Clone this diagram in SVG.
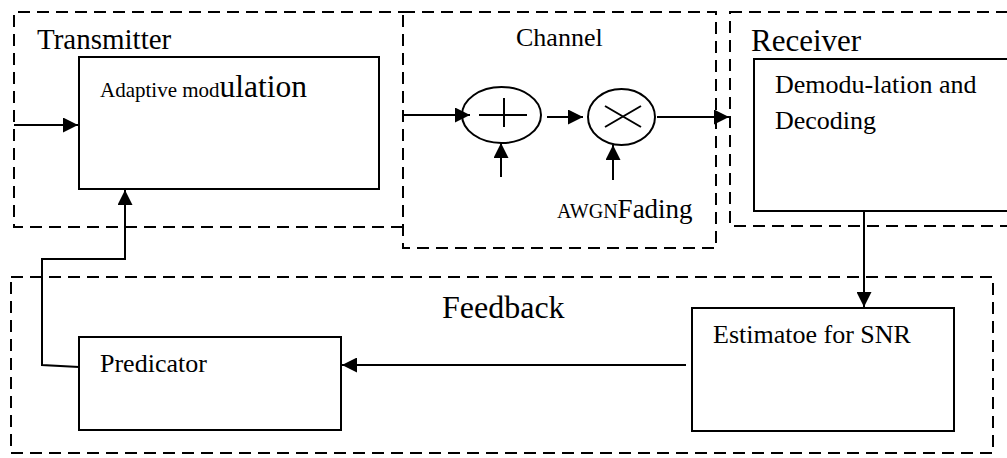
<svg xmlns="http://www.w3.org/2000/svg" width="1007" height="458" viewBox="0 0 1007 458">
<style>
.dash{fill:none;stroke:#000;stroke-width:2;stroke-dasharray:12 7}
.box{fill:#fff;stroke:#000;stroke-width:2}
.ln{fill:none;stroke:#000;stroke-width:2}
text{font-family:"Liberation Serif","Times New Roman",serif;fill:#000}
</style>
<defs>
<marker id="ah" viewBox="0 0 15 15" refX="15" refY="7.5" markerWidth="15" markerHeight="15" markerUnits="userSpaceOnUse" orient="auto">
<path d="M0,0 L15,7.5 L0,15 Z" fill="#000"/>
</marker>
</defs>
<g id="transmitter">
<path class="dash" d="M403,227 H14 V12 H403"/>
<text x="37" y="49" font-size="29">Transmitter</text>
</g>
<g id="channel">
<rect class="dash" x="403" y="12" width="313" height="236"/>
<text x="516" y="46" font-size="26">Channel</text>
<text x="557" y="218"><tspan font-size="20">AWGN</tspan><tspan font-size="27">Fading</tspan></text>
</g>
<g id="receiver">
<rect class="dash" x="730" y="12" width="300" height="214"/>
<text x="751" y="51" font-size="31">Receiver</text>
</g>
<g id="feedback">
<rect class="dash" x="11" y="277" width="982" height="176"/>
<text x="442" y="318" font-size="32">Feedback</text>
</g>
<g id="adaptive-modulation">
<rect class="box" x="79" y="57" width="300" height="132"/>
<text x="100" y="97"><tspan font-size="21">Adaptive mod</tspan><tspan font-size="31.5">ulation</tspan></text>
</g>
<g id="adder">
<ellipse class="ln" cx="501.5" cy="115" rx="39.5" ry="28"/>
<path class="ln" d="M479,115 H527 M504,98 V127"/>
</g>
<g id="multiplier">
<ellipse class="ln" cx="621.5" cy="117" rx="33.5" ry="28"/>
<path class="ln" d="M605,106 L641,127 M605,127 L641,106"/>
</g>
<g id="demodulation">
<rect class="box" x="754" y="59" width="280" height="152"/>
<text x="775" y="93" font-size="26">Demodu-lation and</text>
<text x="775" y="129" font-size="26">Decoding</text>
</g>
<g id="estimator">
<rect class="box" x="692" y="308" width="262" height="123"/>
<text x="713" y="343" font-size="26">Estimatoe for SNR</text>
</g>
<g id="predicator">
<rect class="box" x="79" y="337" width="262" height="93"/>
<text x="100" y="372" font-size="26">Predicator</text>
</g>
<g id="connectors">
<path class="ln" d="M14,125 H78" marker-end="url(#ah)"/>
<path class="ln" d="M79,367 L42,365 V259 H125 V190" marker-end="url(#ah)"/>
<path class="ln" d="M403,115 H470" marker-end="url(#ah)"/>
<path class="ln" d="M501,177 V143" marker-end="url(#ah)"/>
<path class="ln" d="M547,117 H583" marker-end="url(#ah)"/>
<path class="ln" d="M613,180 V145" marker-end="url(#ah)"/>
<path class="ln" d="M657,117 H729" marker-end="url(#ah)"/>
<path class="ln" d="M864,211 V307" marker-end="url(#ah)"/>
<path class="ln" d="M686,365 H342" marker-end="url(#ah)"/>
</g>
</svg>
